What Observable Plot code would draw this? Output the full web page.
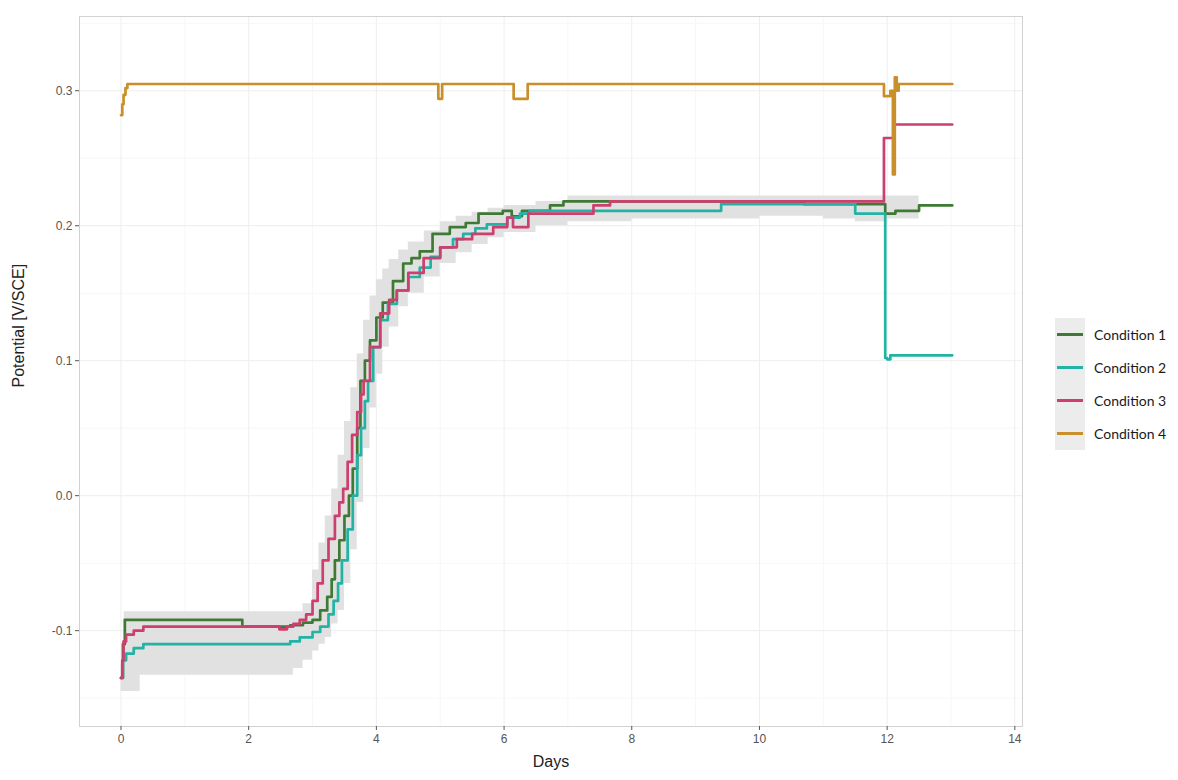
<!DOCTYPE html>
<html><head><meta charset="utf-8">
<script src="https://cdn.jsdelivr.net/npm/d3@7"></script>
<script src="https://cdn.jsdelivr.net/npm/@observablehq/plot@0.6"></script>
<style>
body{margin:0;background:#fff;}
#wrap{position:relative;width:1178px;height:780px;}
#legend{position:absolute;left:1055px;top:318px;font-family:Lato,"Open Sans",sans-serif;font-size:14px;color:#1a1a1a;}
.key{display:flex;align-items:center;height:33px;}
.sw{width:30px;height:33px;background:#ececec;display:flex;align-items:center;justify-content:center;}
.sw span{display:block;width:26px;height:3px;}
.lab{margin-left:9px;}
</style></head><body><div id="wrap"><div id="legend"></div></div>
<script>
const conditions = ["Condition 1","Condition 2","Condition 3","Condition 4"];
const colors = ["#3f7a34","#22b3a4","#cc3f6e","#c98f2a"];

const days1 = [0,0.03,0.06,1.9,2.65,2.85,3.0,3.12,3.23,3.3,3.35,3.42,3.5,3.57,3.63,3.7,3.75,3.82,3.9,4.0,4.1,4.26,4.42,4.55,4.68,4.88,5.15,5.4,5.6,5.98,6.12,6.28,6.72,6.93,10.7,11.97,12.13,12.5,13.02];
const pot1  = [-0.135,-0.11,-0.092,-0.097,-0.096,-0.094,-0.092,-0.085,-0.075,-0.062,-0.048,-0.033,-0.015,0.0,0.02,0.05,0.085,0.1,0.115,0.132,0.143,0.159,0.172,0.176,0.181,0.194,0.199,0.202,0.209,0.211,0.207,0.211,0.215,0.218,0.216,0.209,0.211,0.215,0.215];

const days2 = [0,0.03,0.08,0.2,0.35,2.65,2.8,3.0,3.12,3.25,3.33,3.4,3.46,3.55,3.63,3.7,3.76,3.82,3.87,3.95,4.06,4.18,4.32,4.5,4.68,4.85,5.0,5.2,5.36,5.55,5.73,6.05,6.25,6.4,9.4,11.5,11.97,12.0,12.05,13.02];
const pot2  = [-0.135,-0.122,-0.117,-0.113,-0.11,-0.108,-0.105,-0.101,-0.097,-0.088,-0.078,-0.065,-0.048,-0.025,0.0,0.03,0.05,0.07,0.085,0.11,0.13,0.142,0.152,0.162,0.169,0.177,0.184,0.19,0.194,0.198,0.201,0.206,0.209,0.211,0.216,0.209,0.102,0.101,0.104,0.104];

const days3 = [0,0.02,0.04,0.08,0.2,0.35,2.48,2.6,2.7,2.8,2.9,3.0,3.08,3.16,3.25,3.35,3.42,3.48,3.55,3.62,3.7,3.76,3.8,3.9,4.06,4.2,4.32,4.5,4.74,5.0,5.26,5.5,5.83,6.05,6.14,6.38,7.4,7.66,11.95,12.1,13.02];
const pot3  = [-0.135,-0.122,-0.108,-0.103,-0.1,-0.097,-0.099,-0.097,-0.095,-0.092,-0.088,-0.078,-0.065,-0.048,-0.032,-0.015,-0.005,0.005,0.025,0.045,0.062,0.075,0.085,0.11,0.135,0.145,0.152,0.165,0.176,0.184,0.19,0.194,0.199,0.206,0.199,0.209,0.215,0.218,0.265,0.275,0.275];

const days4 = [0,0.02,0.04,0.07,0.1,4.97,5.03,6.15,6.37,11.95,12.05,12.09,12.12,12.15,12.18,13.02];
const pot4  = [0.282,0.29,0.297,0.302,0.305,0.294,0.305,0.294,0.305,0.296,0.3,0.238,0.31,0.3,0.305,0.305];

const ribbonDays = [0,0.05,0.3,2.7,2.85,3.0,3.1,3.2,3.3,3.4,3.5,3.6,3.7,3.8,3.9,4.0,4.1,4.2,4.35,4.5,4.75,5.0,5.25,5.5,5.75,6.0,6.5,7.0,8.0,10.0,11.0,11.5,12.0,12.5];
const ribbonLow = [-0.145,-0.145,-0.133,-0.128,-0.122,-0.115,-0.11,-0.105,-0.095,-0.085,-0.065,-0.04,-0.005,0.035,0.065,0.09,0.11,0.125,0.14,0.15,0.162,0.172,0.18,0.186,0.191,0.195,0.2,0.203,0.205,0.207,0.205,0.203,0.205,0.205];
const ribbonHigh = [-0.125,-0.086,-0.086,-0.086,-0.08,-0.055,-0.035,-0.015,0.005,0.03,0.055,0.08,0.105,0.13,0.148,0.16,0.168,0.175,0.182,0.188,0.196,0.203,0.207,0.21,0.213,0.215,0.218,0.222,0.222,0.222,0.222,0.222,0.222,0.222];

const xTicks = [0,2,4,6,8,10,12,14];
const yTicks = [-0.1,0.0,0.1,0.2,0.3];
const xMinor = [1,3,5,7,9,11,13];
const yMinor = [-0.15,-0.05,0.05,0.15,0.25,0.35];

const series = [[days1,pot1],[days2,pot2],[days3,pot3],[days4,pot4]];
const rows = [];
series.forEach(([d,p],i)=>d.forEach((x,j)=>rows.push({cond:conditions[i],day:x,v:p[j]})));
const ribbon = ribbonDays.map((d,i)=>({day:d,lo:ribbonLow[i],hi:ribbonHigh[i]}));

const chart = Plot.plot({
  width:1178, height:780,
  marginLeft:79, marginRight:156, marginTop:16, marginBottom:54,
  x:{domain:[-0.65,14.12]},
  y:{domain:[-0.171,0.355]},
  color:{domain:conditions, range:colors},
  style:{fontFamily:"'Liberation Sans', Arial, sans-serif", fontSize:"12px", background:"#fff"},
  marks:[
    Plot.gridX(xMinor,{stroke:"#f7f7f7",strokeOpacity:1}),
    Plot.gridY(yMinor,{stroke:"#f7f7f7",strokeOpacity:1}),
    Plot.gridX(xTicks,{stroke:"#eeeeee",strokeOpacity:1}),
    Plot.gridY(yTicks,{stroke:"#eeeeee",strokeOpacity:1}),
    Plot.areaY(ribbon,{x:"day",y1:"lo",y2:"hi",fill:"#e1e1e1",curve:"step-after"}),
    Plot.line(rows,{x:"day",y:"v",z:"cond",stroke:"cond",strokeWidth:2.7,curve:"step-after"}),
    Plot.frame({stroke:"#d2d2d2"}),
    Plot.axisX(xTicks,{tickSize:4,tickPadding:4,color:"#555",label:null,tickFormat:d=>String(d)}),
    Plot.axisY(yTicks,{tickSize:4,tickPadding:3,color:"#555",label:null,tickFormat:d=>d.toFixed(1)}),
    Plot.text(["Days"],{frameAnchor:"bottom",dy:40,fontSize:16,fill:"#222"}),
    Plot.text(["Potential [V/SCE]"],{frameAnchor:"left",dx:-61,dy:16,rotate:-90,fontSize:16,fill:"#222"})
  ]
});
const wrap = document.getElementById("wrap");
wrap.insertBefore(chart, wrap.firstChild);

const legend = document.getElementById("legend");
conditions.forEach((c,i)=>{
  const k = document.createElement("div"); k.className="key";
  k.innerHTML = `<div class="sw"><span style="background:${colors[i]}"></span></div><div class="lab">${c}</div>`;
  legend.appendChild(k);
});
</script></body></html>
